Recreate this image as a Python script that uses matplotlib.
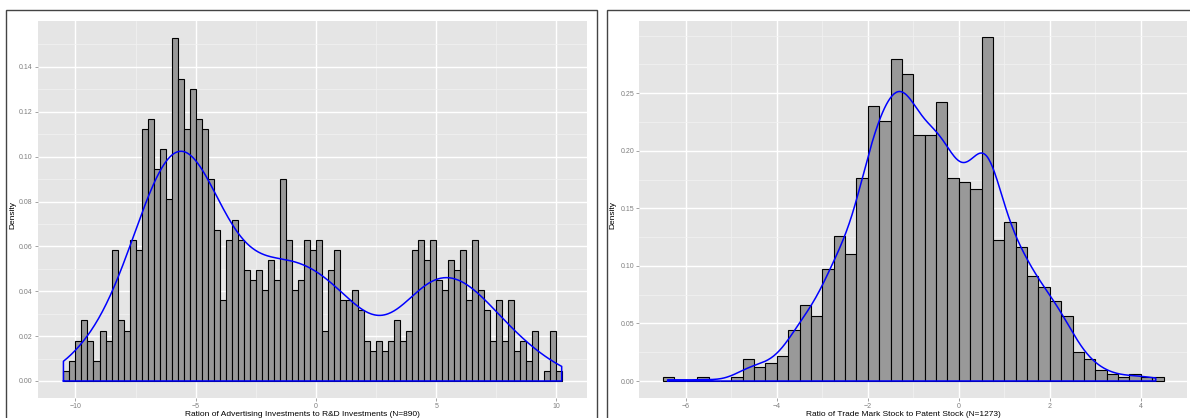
import numpy as np
import matplotlib
matplotlib.use('Agg')
import matplotlib.pyplot as plt
from matplotlib.patches import Rectangle
from matplotlib.ticker import FormatStrFormatter

plt.rcParams['font.family'] = ['Liberation Sans', 'DejaVu Sans']

# --- left panel: advertising / R&D ratio, bins of 0.25 starting at -10.5 ---
adv_start = -10.5
adv_binwidth = 0.25
adv_counts = [1, 2, 4, 6, 4, 2, 5, 4, 13, 6,
              5, 14, 13, 25, 26, 21, 23, 18, 34, 30,
              25, 29, 26, 25, 20, 15, 8, 14, 16, 14,
              11, 10, 11, 9, 12, 10, 20, 14, 9, 10,
              14, 13, 14, 5, 11, 13, 8, 8, 9, 7,
              4, 3, 4, 3, 4, 6, 4, 5, 13, 14,
              12, 14, 10, 9, 12, 11, 13, 8, 14, 9,
              7, 4, 8, 4, 8, 3, 4, 2, 5, 0, 1, 5, 1]
adv_range = (-10.5, 10.22)   # min / max of observations
adv_title = "Ration of Advertising Investments to R&D Investments (N=890)"

# --- right panel: trade mark / patent stock ratio, bins of 0.25 starting at -6.5 ---
tm_start = -6.5
tm_binwidth = 0.25
tm_counts = [1, 0, 0, 1, 0, 0, 1, 6, 4, 5,
             7, 14, 21, 18, 31, 40, 35, 56, 76, 72,
             89, 85, 68, 68, 77, 56, 55, 53, 95, 39,
             44, 37, 29, 26, 22, 18, 8, 6, 3, 2,
             1, 2, 1, 1]
tm_range = (-6.4, 4.33)
tm_title = "Ratio of Trade Mark Stock to Patent Stock (N=1273)"

W, H = 1190, 418


def kde(counts, start, bw_width, lo, hi, adjust=1.0):
    """Gaussian KDE (R's bw.nrd0) of the binned observations, like geom_density."""
    centers = start + bw_width * (np.arange(len(counts)) + 0.5)
    data = np.repeat(centers, counts)
    n = len(data)
    sd = data.std(ddof=1)
    iqr = np.subtract(*np.percentile(data, [75, 25]))
    bw = adjust * 0.9 * min(sd, iqr / 1.34) * n ** -0.2
    grid = np.linspace(lo, hi, 512)
    z = (grid[:, None] - data[None, :]) / bw
    dens = np.exp(-0.5 * z ** 2).sum(axis=1) / (n * bw * np.sqrt(2 * np.pi))
    return grid, dens


def hist_panel(rect, counts, start, width, rng, xlim, ylim,
               xmaj, xmin_, ymaj, ymin_, adjust=1.0):
    ax = fig.add_axes(rect)
    counts = np.array(counts)
    n = counts.sum()
    density = counts / (n * width)
    lefts = start + width * np.arange(len(counts))
    ax.set_facecolor('#E5E5E5')
    ax.bar(lefts, density, width=width, align='edge', color='#999999',
           edgecolor='black', linewidth=0.8, zorder=2)
    gx, gy = kde(counts, start, width, rng[0], rng[1], adjust)
    px = np.concatenate([[gx[0]], gx, [gx[-1], gx[0]]])
    py = np.concatenate([[0], gy, [0, 0]])
    ax.plot(px, py, color='blue', linewidth=1.1, zorder=3)
    ax.set_xlim(*xlim)
    ax.set_ylim(*ylim)
    ax.set_xticks(xmaj)
    ax.set_xticks(xmin_, minor=True)
    ax.set_yticks(ymaj)
    ax.set_yticks(ymin_, minor=True)
    ax.yaxis.set_major_formatter(FormatStrFormatter('%.2f'))
    ax.grid(which='major', color='white', linewidth=1.0, zorder=0)
    ax.grid(which='minor', color='#F2F2F2', linewidth=0.5, zorder=0)
    ax.set_axisbelow(True)
    for s in ax.spines.values():
        s.set_visible(False)
    ax.tick_params(which='major', length=2, width=0.5, color='#7F7F7F',
                   labelcolor='#7F7F7F', labelsize=5, pad=1.5)
    ax.tick_params(which='minor', length=0)
    return ax


fig = plt.figure(figsize=(W / 100, H / 100), dpi=100)


def frac(x0, y0, x1, y1):
    return [x0 / W, 1 - y1 / H, (x1 - x0) / W, (y1 - y0) / H]


# outer plot borders
fig.patches.append(Rectangle((6 / W, -0.1), (597 - 6) / W, 1.1 - 10 / H,
                             transform=fig.transFigure, fill=False,
                             edgecolor='#444444', linewidth=1.0))
fig.patches.append(Rectangle((606.7 / W, -0.1), 0.6, 1.1 - 10 / H,
                             transform=fig.transFigure, fill=False,
                             edgecolor='#444444', linewidth=1.0))

hist_panel(frac(37.7, 20.7, 586.7, 397.7), adv_counts, adv_start, adv_binwidth,
           adv_range, (-11.57, 11.26), (-0.00745, 0.1606),
           [-10, -5, 0, 5, 10], [-7.5, -2.5, 2.5, 7.5],
           np.arange(0, 0.141, 0.02), np.arange(0.01, 0.151, 0.02))

hist_panel(frac(639, 20.7, 1186.7, 397.7), tm_counts, tm_start, tm_binwidth,
           tm_range, (-7.03, 5.01), (-0.0145, 0.313),
           [-6, -4, -2, 0, 2, 4], [-5, -3, -1, 1, 3],
           np.arange(0, 0.251, 0.05), [0.025, 0.075, 0.125, 0.175, 0.225, 0.275, 0.30],
           adjust=0.94)

fig.text(302 / W, 1 - 411 / H, adv_title, ha='center', va='top', fontsize=6)
fig.text(903 / W, 1 - 411 / H, tm_title, ha='center', va='top', fontsize=6)
fig.text(13 / W, 1 - 215 / H, 'Density', rotation=90, ha='center', va='center', fontsize=6)
fig.text(613 / W, 1 - 215 / H, 'Density', rotation=90, ha='center', va='center', fontsize=6)

fig.savefig('out.png', dpi=100)
